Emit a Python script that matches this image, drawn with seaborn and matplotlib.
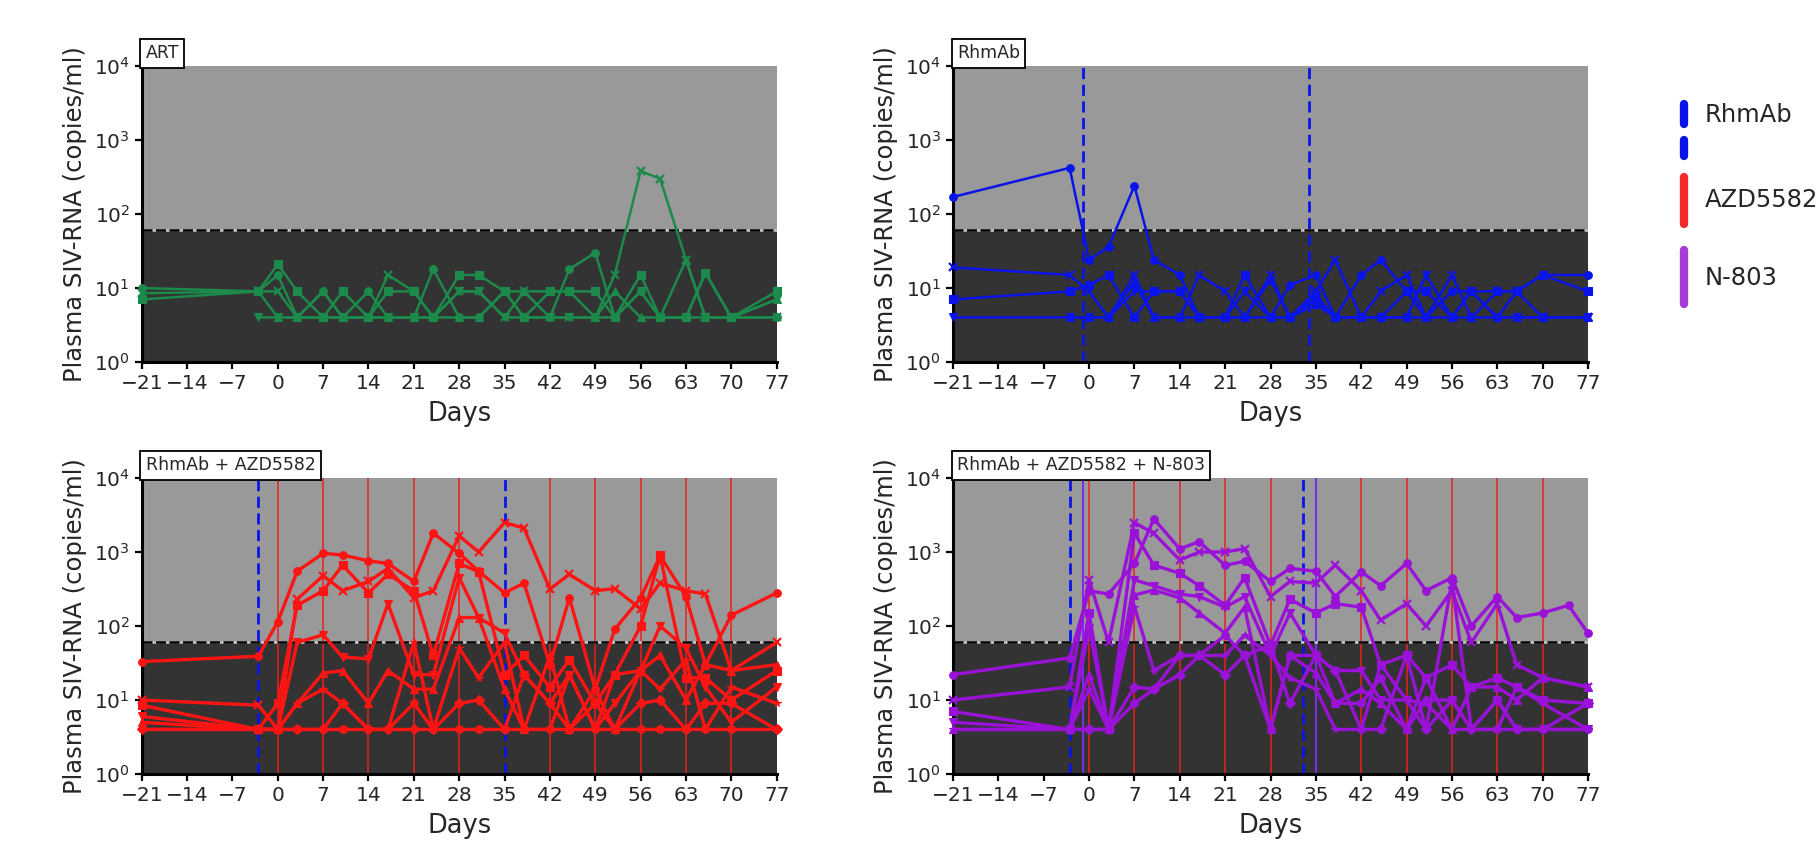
import numpy as np
import pandas as pd
import matplotlib
matplotlib.use("Agg")
import matplotlib.pyplot as plt
import seaborn as sns
from matplotlib.lines import Line2D
from matplotlib.ticker import NullLocator, FixedLocator

N = np.nan

# ---------------- data ----------------
days = [-21, -3, 0, 3, 7, 10, 14, 17, 21, 24, 28, 31, 35, 38, 42, 45, 49, 52, 56, 59, 63, 66, 70, 77]
pdays = [-21, -3, 0, 3, 7, 10, 14, 17, 21, 24, 28, 31, 35, 38, 42, 45, 49, 52, 56, 59, 63, 66, 70, 74, 77]

art_1 = [10, 9, 15, 4, 9, 4, 9, 4, 4, 18, 4, 4, 9, 4, 4, 18, 30, 4, 9, 4, 4, 16, 4, 4]
art_2 = [8.5, 9, 9, 4, 4, 4, 4, 15, 9, 4, 9, 9, 4, 9, 4, 4, 4, 15, 380, 300, 24, 4, 4, 4]
art_3 = [7, 9, 21, 9, 4, 9, 4, 9, 9, 4, 15, 15, 9, 4, 9, 9, 9, 4, 15, 4, 4, 16, 4, 9]
art_4 = [N, 4, 4, 4, 4, 4, 4, 4, 4, 4, 9, 9, 4, 4, 4, 4, 4, 4, 9, 4, 4, 4, 4, 7]
art_5 = [N, 9, 4, 4, 9, 4, 4, 4, 4, 4, 4, 4, 9, 9, 9, 9, 4, 9, 4, 4, 24, 4, 4, 7]

rh_1 = [170, 420, 24, 36, 240, 24, 15, 4, 4, 4, 4, 11, 15, 4, 15, 24, 9, 4, 9, 9, 4, 9, 15, 15]
rh_2 = [19, 15, 9, 4, 15, 4, 4, 15, 9, 4, 15, 4, 9, 24, 4, 9, 15, 4, 15, 4, 9, 9, 4, 4]
rh_3 = [7, 9, 11, 15, 4, 9, 9, 4, 4, 15, 4, 4, 7, 4, 4, 4, 9, 9, 4, 9, 9, 9, 15, 9]
rh_4 = [4, 4, 4, 4, 9, 9, 9, 4, 4, 9, 4, 4, 8, 4, 4, 4, 4, 15, 4, 9, 4, 4, 4, 4]
rh_5 = [N, 4, 4, 4, 12, 4, 4, 4, 4, 4, 13, 4, 6, 4, 4, 4, 4, 4, 4, 4, 4, 4, 4, 4]

red_1 = [33, 39, 114, 550, 960, 910, 760, 700, 400, 1800, 960, 550, 280, 380, 30, 240, 14, 90, 240, 890, 250, 30, 140, 280]
red_2 = [10, 8.5, 4, 230, 480, 300, 400, 600, 240, 300, 1650, 1000, 2500, 2100, 315, 500, 300, 320, 170, 380, 300, 270, 25, 60]
red_3 = [8.5, 4, 9, 190, 300, 665, 280, 500, 300, 40, 700, 540, 22, 40, 15, 35, 9, 22, 100, 900, 20, 20, 10, 25]
red_4 = [6, 4, 4, 60, 76, 38, 36, 200, 22, 22, 450, 130, 80, 22, 9, 22, 4, 9, 25, 100, 50, 15, 5, 15]
red_5 = [5, 4, 4, 9, 23, 25, 9, 25, 14, 14, 130, 130, 14, 4, 40, 4, 14, 4, 25, 40, 10, 30, 25, 30]
red_6 = [4, 4, 4, 9, 14, 9, 4, 4, 60, 4, 50, 20, 60, 4, 4, 22, 4, 22, 25, 14, 35, 4, 15, 9]
red_7 = [4, 4, 4, 4, 4, 9, 4, 4, 4, 4, 9, 10, 4, 22, 9, 4, 9, 4, 9, 10, 4, 9, 9, 4]
red_8 = [N, 4, 4, 4, 4, 4, 4, 4, 9, 4, 4, 4, 4, 4, 4, 4, 4, 4, 4, 4, 4, 4, 4, 4]

pur_1 = [22, 37, 300, 270, 700, 2800, 1100, 1380, 660, 750, 400, 600, 550, 250, 540, 350, 700, 300, 450, 100, 250, 130, 150, 190, 80]
pur_2 = [10, 15, 420, 60, 2500, 1780, 780, 1000, 1000, 1110, 250, 400, 380, 665, 300, 120, 200, 100, 300, 60, 200, 30, 20, N, 15]
pur_3 = [7, 4, 150, 4, 1800, 665, 515, 350, 190, 450, 55, 230, 150, 200, 180, 30, 40, 20, 30, 15, 20, 15, 10, N, 9]
pur_4 = [5, 4, 93, 4, 420, 350, 270, 250, 180, 250, 40, 150, 40, 25, 25, 10, 10, 4, 10, 4, 10, 4, 4, N, 4]
pur_5 = [4, 4, 22, 4, 262, 306, 240, 150, 80, 180, 4, 40, 23, 9, 14, 9, 4, 20, 4, 15, 15, 10, 20, N, 15]
pur_6 = [4, 4, 14, 4, 182, 25, 40, 40, 40, 75, 40, 20, 14, 4, 4, 30, 10, 9, 4, 4, 4, 15, 9, N, 4]
pur_7 = [N, 4, 4, 4, 15, 14, 22, 40, 22, 40, 55, 9, 40, 25, 4, 4, 40, 4, 400, 4, 10, 4, 4, N, 9]
pur_8 = [N, 4, 4, 4, 9, 14, 40, 40, 75, 40, 4, 40, 40, 9, 9, 20, 4, 10, 10, 4, 4, 4, 4, N, 4]

xticks = [-21, -14, -7, 0, 7, 14, 21, 28, 35, 42, 49, 56, 63, 70, 77]
xticklabels = ["\u221221", "\u221214", "\u22127", "0", "7", "14", "21", "28", "35", "42", "49", "56", "63", "70", "77"]
lod = 60

panel_titles = ["ART", "RhmAb", "RhmAb + AZD5582", "RhmAb + AZD5582 + N-803"]
rhmab_days = [[], [-1, 34], [-3, 35], [-3, 33]]
azd_days = [[], [], [0, 7, 14, 21, 28, 42, 49, 56, 63, 70], [0, 7, 14, 21, 28, 42, 49, 56, 63, 70]]
n803_days = [[], [], [], [-1, 35]]
legend_labels = ["RhmAb", "AZD5582", "N-803"]

# ---------------- style ----------------
sns.set_style("ticks")
plt.rcParams["font.family"] = ["DejaVu Sans"]

colors = ["#1b8a4a", "#0a14e8", "#ff1414", "#9a12d8"]
c_blue_v = "#0a14e8"
c_red_v = "#e8201e"
c_pur_v = "#7c2ee6"
markers = ["o", "x", "s", "v", "^", "*", "D", "o"]

groups = [
    (days, [art_1, art_2, art_3, art_4, art_5]),
    (days, [rh_1, rh_2, rh_3, rh_4, rh_5]),
    (days, [red_1, red_2, red_3, red_4, red_5, red_6, red_7, red_8]),
    (pdays, [pur_1, pur_2, pur_3, pur_4, pur_5, pur_6, pur_7, pur_8]),
]

fig = plt.figure(figsize=(18.19, 8.60), dpi=100)
W, H = 1819, 860
rects = [
    (141.7 / W, 1 - 362 / H, 635 / W, 296 / H),
    (953 / W, 1 - 362 / H, 635 / W, 296 / H),
    (141.7 / W, 1 - 774 / H, 635 / W, 296 / H),
    (953 / W, 1 - 774 / H, 635 / W, 296 / H),
]
lws = [1.8, 1.8, 2.4, 2.4]

for i, rect in enumerate(rects):
    ax = fig.add_axes(rect)
    ax.set_yscale("log")
    ax.set_xlim(-21, 77)
    ax.set_ylim(1, 1e4)
    ax.set_facecolor("white")
    ax.axhspan(lod, 1e4, color="#999999", zorder=0, lw=0)
    ax.axhspan(1, lod, color="#333333", zorder=0, lw=0)
    for d in azd_days[i]:
        ax.axvline(d, color=c_red_v, lw=1.1, zorder=1)
    for d in n803_days[i]:
        ax.axvline(d, color=c_pur_v, lw=1.5, zorder=1)
    for d in rhmab_days[i]:
        ax.axvline(d, color=c_blue_v, lw=2.0, ls=(0, (4, 2)), zorder=1)
    ax.axhline(lod, color="#c8c8c8", lw=1.8, zorder=2)
    ax.axhline(lod, color="black", lw=1.8, ls=(0, (4, 1.4)), zorder=2)

    dd, series = groups[i]
    for j, vals in enumerate(series):
        df = pd.DataFrame({"day": dd, "v": vals}).dropna()
        m = markers[j % len(markers)]
        sns.lineplot(data=df, x="day", y="v", ax=ax, color=colors[i], marker=m,
                     markersize=5.5, markeredgewidth=1.6 if m == "x" else 0.8,
                     markeredgecolor=colors[i], linewidth=lws[i],
                     estimator=None, sort=False, zorder=3, clip_on=False)

    ax.set_xticks(xticks)
    ax.set_xticklabels(xticklabels)
    ax.yaxis.set_major_locator(FixedLocator([1, 10, 100, 1000, 10000]))
    ax.yaxis.set_minor_locator(NullLocator())
    ax.tick_params(axis="both", labelsize=14.5, direction="out", length=5, width=1.6, color="black")
    for s in ["top", "right"]:
        ax.spines[s].set_visible(False)
    for s in ["left", "bottom"]:
        ax.spines[s].set_linewidth(2.2)
        ax.spines[s].set_color("black")
    ax.set_xlabel("Days", fontsize=18.5, labelpad=6)
    ax.set_ylabel("Plasma SIV-RNA (copies/ml)", fontsize=17.5, labelpad=5)
    ax.grid(False)
    ax.text(0.006, 1.012, panel_titles[i], transform=ax.transAxes, fontsize=12.5,
            ha="left", va="bottom",
            bbox=dict(boxstyle="square,pad=0.3", fc="white", ec="black", lw=1.3))

# ---------------- legend ----------------
def fy(py):
    return 1 - py / H

lx = 1684 / W
leg_bars = [
    (104, 124, c_blue_v),
    (140, 156, c_blue_v),
    (177, 224, "#f22a2a"),
    (250, 304, "#a83ad8"),
]
for y0, y1, c in leg_bars:
    fig.add_artist(Line2D([lx, lx], [fy(y0), fy(y1)], color=c, lw=6,
                          solid_capstyle="round", transform=fig.transFigure))
for lab, py in zip(legend_labels, [115, 200, 278]):
    fig.text(1705 / W, fy(py), lab, fontsize=17.5, ha="left", va="center")

fig.savefig("out.png", dpi=100)
